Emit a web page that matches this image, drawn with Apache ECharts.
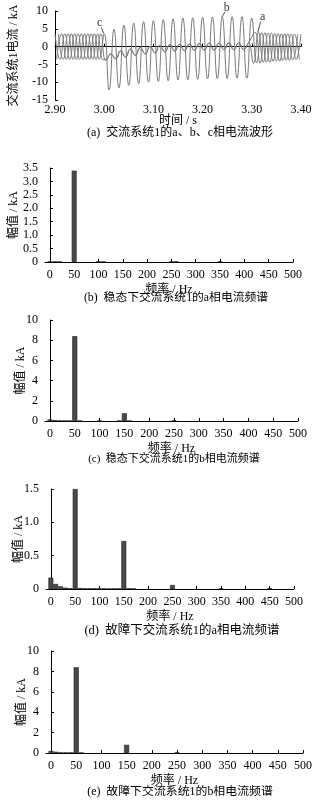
<!DOCTYPE html>
<html>
<head>
<meta charset="utf-8">
<script src="https://cdn.jsdelivr.net/npm/echarts@6/dist/echarts.min.js"></script>
<style>
html,body{margin:0;padding:0;background:#fff}
#main{width:315px;height:800px}
</style>
</head>
<body>
<div id="main"></div>
<script>
// (a) waveform: extremes of each phase (time s, current kA)
const tB = [2.90,2.91,2.92,2.93,2.94,2.95,2.96,2.97,2.98,2.99,3.00,3.01,3.02,3.03,3.04,3.05,3.06,3.07,3.08,3.09,3.10,
  3.11,3.12,3.13,3.14,3.15,3.16,3.17,3.18,3.19,3.20,3.21,3.22,3.23,3.24,3.25,3.26,3.27,3.28,3.29,3.30,
  3.31,3.32,3.33,3.34,3.35,3.36,3.37,3.38,3.39,3.40]
const iB = [3.6,-3.6,3.6,-3.6,3.6,-3.6,3.6,-3.6,3.6,-3.6,3.6,
  -12.2,4.9,-11.6,6.0,-10.9,6.6,-10.4,7.0,-10.0,7.3,
  -9.8,7.6,-9.6,7.8,-9.4,8.0,-9.3,8.1,-9.2,8.2,
  -9.1,8.3,-9.0,8.3,-9.0,8.4,-8.9,8.4,-8.9,8.0,
  -4.6,3.9,-4.3,3.8,-4.0,3.6,-3.8,3.5,-3.6,3.5]
const tA = [2.9033,2.9133,2.9233,2.9333,2.9433,2.9533,2.9633,2.9733,2.9833,2.9933,
  3.0033,3.0133,3.0233,3.0333,3.0433,3.0533,3.0633,3.0733,3.0833,3.0933,
  3.1033,3.1133,3.1233,3.1333,3.1433,3.1533,3.1633,3.1733,3.1833,3.1933,
  3.2033,3.2133,3.2233,3.2333,3.2433,3.2533,3.2633,3.2733,3.2833,3.2933,
  3.3033,3.3133,3.3233,3.3333,3.3433,3.3533,3.3633,3.3733,3.3833,3.3933]
const iA = [-3.6,3.6,-3.6,3.6,-3.6,3.6,-3.6,3.6,-3.6,3.6,
  -3.9,-2.2,-3.5,-1.3,-3.0,-0.7,-2.5,-0.3,-2.1,0.0,
  -1.8,0.3,-1.5,0.5,-1.3,0.6,-1.2,0.7,-1.1,0.8,
  -1.0,0.9,-1.0,0.9,-0.9,1.0,-0.9,1.0,-0.9,1.0,
  -4.7,4.0,-4.4,3.8,-4.1,3.7,-3.9,3.6,-3.7,3.5]
// phase c runs almost on top of phase a during the fault
const tC = [2.9067,2.9167,2.9267,2.9367,2.9467,2.9567,2.9667,2.9767,2.9867,2.9967,
  3.0033,3.0133,3.0233,3.0333,3.0433,3.0533,3.0633,3.0733,3.0833,3.0933,
  3.1033,3.1133,3.1233,3.1333,3.1433,3.1533,3.1633,3.1733,3.1833,3.1933,
  3.2033,3.2133,3.2233,3.2333,3.2433,3.2533,3.2633,3.2733,3.2833,3.2933,
  3.3067,3.3167,3.3267,3.3367,3.3467,3.3567,3.3667,3.3767,3.3867,3.3967]
const iC = [3.6,-3.6,3.6,-3.6,3.6,-3.6,3.6,-3.6,3.6,-3.6,
  -3.7,-2.0,-3.3,-1.1,-2.8,-0.6,-2.4,-0.2,-2.0,0.1,
  -1.7,0.4,-1.4,0.6,-1.2,0.7,-1.1,0.8,-1.0,0.9,
  -0.9,1.0,-0.9,1.0,-0.8,1.1,-0.8,1.1,-0.8,1.1,
  4.0,-4.7,3.9,-4.4,3.7,-4.1,3.6,-3.9,3.5,-3.7]

// spectra (Hz, kA); bins not listed are ~0
const fB = [0,10,20,50,100,110,250,260,350]
const aB = [0.02,0.02,0.01,3.4,0.02,0.01,0.02,0.02,0.01]
const fC = [0,10,20,30,40,50,60,100,140,150,160,250]
const aC = [0.15,0.08,0.04,0.03,0.03,8.4,0.03,0.02,0.02,0.76,0.02,0.06]
const fD = [0,10,20,30,40,50,60,70,80,90,100,110,120,130,140,150,160,170,250,350,450]
const aD = [0.17,0.075,0.04,0.02,0.012,1.5,0.015,0.01,0.01,0.01,0.01,0.008,0.006,0.006,0.008,0.72,0.01,0.005,0.06,0.008,0.012]
const fE = [0,10,20,30,40,50,60,150,250]
const aE = [0.2,0.12,0.05,0.05,0.05,8.4,0.03,0.8,0.06]

const freqTicks = [0,50,100,150,200,250,300,350,400,450,500]
const captions = [
  '(a)  交流系统1的a、b、c相电流波形',
  '(b)  稳态下交流系统1的a相电流频谱',
  '(c)  稳态下交流系统1的b相电流频谱',
  '(d)  故障下交流系统1的a相电流频谱',
  '(e)  故障下交流系统1的b相电流频谱'
]
const notes = [
  {text: 'c', tip: [2.999, 3.7], end: [2.994, 5.4], at: [2.991, 6.7]},
  {text: 'b', tip: [3.239, 8.3], end: [3.246, 9.8], at: [3.249, 10.9]},
  {text: 'a', tip: [3.312, 4.0], end: [3.318, 7.0], at: [3.322, 8.3]}
]

const FONT = '"Liberation Serif", "Noto Sans CJK SC", serif'
const txt = {color: '#000', fontFamily: FONT, fontSize: 12}
const axLine = {show: true, lineStyle: {color: '#000', width: 1}}
const tick = {show: true, inside: true, length: 3, lineStyle: {color: '#000'}}

let chart = echarts.init(document.getElementById('main'), null, {renderer: 'canvas'})

function pairs(t, v) {
  return t.map((x, i) => [x, v[i]])
}

let grids = [
  {left: 45, top: 11, width: 256, height: 89},
  {left: 44, top: 168, width: 249, height: 94},
  {left: 45, top: 320, width: 253, height: 101},
  {left: 46, top: 489, width: 248, height: 100},
  {left: 46, top: 651, width: 259, height: 102}
]

let xAxis = [{
  gridIndex: 0, type: 'value', min: 2.9, max: 3.4, interval: 0.1,
  name: '时间 / s', nameLocation: 'middle', nameGap: 15, nameMoveOverlap: false, nameTextStyle: txt,
  axisLine: axLine, axisTick: tick, splitLine: {show: false},
  axisLabel: Object.assign({margin: 4, formatter: v => v.toFixed(2)}, txt)
}]
let yAxis = [{
  gridIndex: 0, type: 'value', min: -15, max: 10, interval: 5,
  name: '交流系统1电流 / kA', nameLocation: 'middle', nameGap: 35, nameMoveOverlap: false, nameTextStyle: txt,
  axisLine: axLine, axisTick: tick, splitLine: {show: false},
  axisLabel: Object.assign({margin: 7}, txt)
}]
let specMax = [3.5, 10, 1.5, 10]
let specStep = [0.5, 2, 0.5, 2]
let yNameGap = [25, 18, 21, 18]
for (let k = 0; k < 4; k++) {
  xAxis.push({
    gridIndex: k + 1, type: 'value', min: -10, max: 500,
    name: '频率 / Hz', nameLocation: 'middle', nameGap: 22, nameMoveOverlap: false, nameTextStyle: txt,
    axisLine: axLine, splitLine: {show: false},
    axisTick: Object.assign({customValues: freqTicks}, tick),
    axisLabel: Object.assign({margin: 7, customValues: freqTicks}, txt)
  })
  yAxis.push({
    gridIndex: k + 1, type: 'value', min: 0, max: specMax[k], interval: specStep[k],
    name: '幅值 / kA', nameLocation: 'middle', nameGap: yNameGap[k], nameMoveOverlap: false, nameTextStyle: txt,
    axisLine: axLine, axisTick: tick, splitLine: {show: false},
    axisLabel: Object.assign({margin: 7, formatter: v => (specStep[k] < 1 && v !== 0) ? v.toFixed(1) : String(v)}, txt)
  })
}

let wave = (name, t, v) => ({
  name: name, type: 'line', xAxisIndex: 0, yAxisIndex: 0,
  data: pairs(t, v), smooth: 0.5, symbol: 'none',
  lineStyle: {color: '#7a7a7a', width: 1}, z: 2
})
let spec = (k, f, a) => ({
  type: 'bar', xAxisIndex: k, yAxisIndex: k, data: pairs(f, a),
  barWidth: '100%', itemStyle: {color: '#4a4a4a', borderColor: '#1a1a1a', borderWidth: 0.6}
})

let series = [wave('a', tA, iA), wave('b', tB, iB), wave('c', tC, iC)]
notes.forEach(n => {
  series.push({
    type: 'line', xAxisIndex: 0, yAxisIndex: 0, data: [n.tip, n.end], symbol: 'none',
    lineStyle: {color: '#000', width: 0.7}, z: 5
  })
  series.push({
    type: 'scatter', xAxisIndex: 0, yAxisIndex: 0, data: [n.at], symbolSize: 1, clip: false,
    itemStyle: {color: 'rgba(0,0,0,0)'},
    label: Object.assign({show: true, position: 'inside', formatter: n.text}, txt), z: 5
  })
})
series.push(spec(1, fB, aB), spec(2, fC, aC), spec(3, fD, aD), spec(4, fE, aE))

let capPos = [[180, 133], [176, 298], [174, 459], [182, 631], [180, 792]]
let capSize = [12, 11.8, 11, 12.5, 11.9]
let graphic = captions.map((c, i) => ({
  type: 'text', x: capPos[i][0], y: capPos[i][1],
  style: {text: c, fill: '#000', font: capSize[i] + 'px ' + FONT, textAlign: 'center', textVerticalAlign: 'middle'}
}))

let option = {
  animation: false,
  backgroundColor: '#fff',
  grid: grids,
  xAxis: xAxis,
  yAxis: yAxis,
  series: series,
  graphic: graphic
}
chart.setOption(option)
</script>
</body>
</html>
